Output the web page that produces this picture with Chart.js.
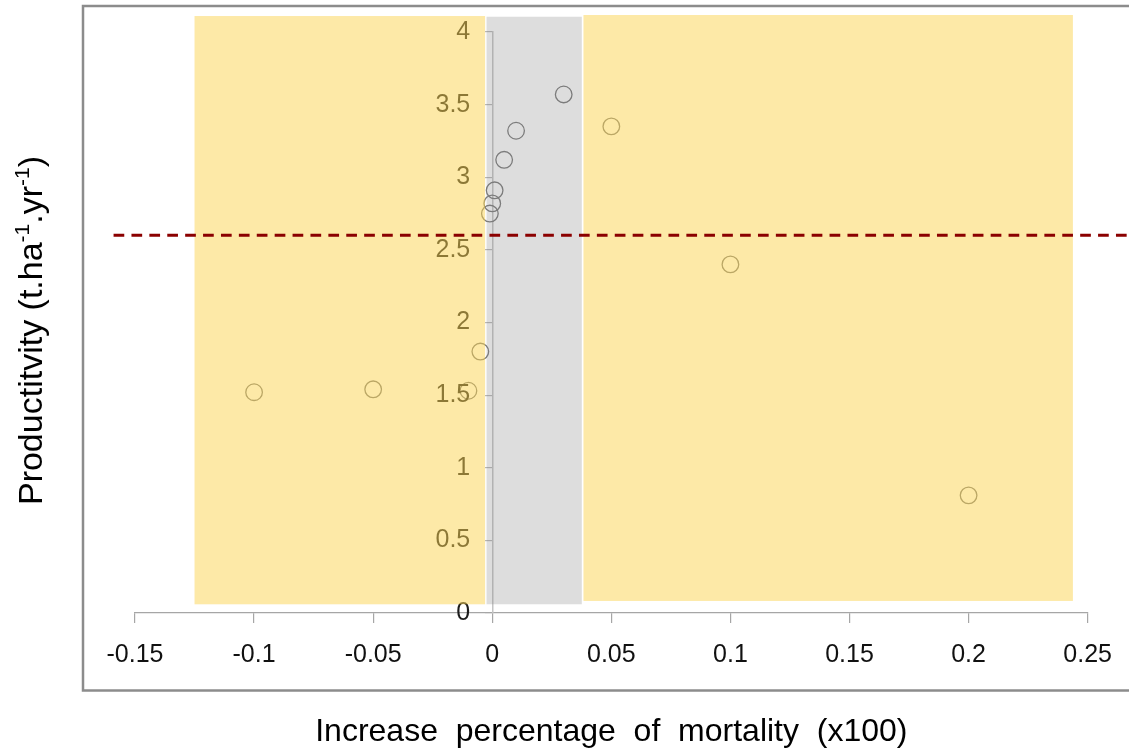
<!DOCTYPE html>
<html>
<head>
<meta charset="utf-8">
<script src="https://cdn.jsdelivr.net/npm/chart.js@4/dist/chart.umd.min.js"></script>
<style>
  html, body { margin: 0; padding: 0; background: #ffffff; }
  #wrap { width: 1129px; height: 756px; position: relative; }
</style>
</head>
<body>
<div id="wrap"><canvas id="chart" width="1129" height="756"></canvas></div>
<script>
// Observed sites: change in mortality vs productivity
const mortalityIncrease = [-0.1, -0.05, -0.01, -0.005, -0.001, 0, 0.001, 0.005, 0.01, 0.03, 0.05, 0.1, 0.2];
const productivity      = [1.52, 1.54, 1.53, 1.80, 2.75, 2.82, 2.91, 3.12, 3.32, 3.57, 3.35, 2.40, 0.81];

// Axis tick labels
const xTickLabels = ['-0.15', '-0.1', '-0.05', '0', '0.05', '0.1', '0.15', '0.2', '0.25'];
const yTickLabels = ['0', '0.5', '1', '1.5', '2', '2.5', '3', '3.5', '4'];

// Shaded zones (data units): [xFrom, xTo, yFrom, yTo]
const zoneLeft   = [-0.125, -0.003, 0.06, 4.11];
const zoneCentre = [-0.0024, 0.0376, 0.06, 4.105];
const zoneRight  = [0.0383, 0.2438, 0.083, 4.117];

// Mean productivity reference line
const meanProductivity = 2.6;
const meanLineSpan = [-0.159, 0.28];

// Axis titles
const xTitle = 'Increase  percentage  of  mortality  (x100)';
const yTitleParts = [
  { text: 'Productitvity (t.ha', sup: false },
  { text: '-1', sup: true },
  { text: '.yr', sup: false },
  { text: '-1', sup: true },
  { text: ')', sup: false }
];

const FONT = '"Liberation Sans", Arial, sans-serif';
const TICK_FONT_SIZE = 25;
const Y_TICK_LEN = 7;
const Y_TICK_PAD = 15;

const decorations = {
  id: 'decorations',
  beforeDraw(chart) {
    const ctx = chart.ctx;
    ctx.save();
    ctx.strokeStyle = '#8c8c8c';
    ctx.lineWidth = 2.5;
    ctx.strokeRect(83, 6, 1100, 684.5);
    ctx.restore();
  },
  afterDraw(chart) {
    const ctx = chart.ctx;
    const xs = chart.scales.x, ys = chart.scales.y;
    ctx.save();

    // y tick labels, left of the axis that crosses at x = 0
    const axisX = xs.getPixelForValue(0);
    ctx.font = TICK_FONT_SIZE + 'px ' + FONT;
    ctx.fillStyle = '#1c1c1c';
    ctx.textAlign = 'right';
    ctx.textBaseline = 'middle';
    ys.ticks.forEach((t, i) => {
      ctx.fillText(yTickLabels[i], axisX - Y_TICK_LEN - Y_TICK_PAD, ys.getPixelForValue(t.value));
    });

    // translucent zones on top of points and labels
    const zone = (z, fill) => {
      const x1 = xs.getPixelForValue(z[0]), x2 = xs.getPixelForValue(z[1]);
      const y1 = ys.getPixelForValue(z[3]), y2 = ys.getPixelForValue(z[2]);
      ctx.fillStyle = fill;
      ctx.fillRect(x1, y1, x2 - x1, y2 - y1);
    };
    zone(zoneLeft, 'rgba(252, 212, 80, 0.5)');
    zone(zoneCentre, 'rgba(128, 128, 128, 0.27)');
    zone(zoneRight, 'rgba(252, 212, 80, 0.5)');

    // dashed mean line
    const yMean = ys.getPixelForValue(meanProductivity);
    ctx.beginPath();
    ctx.setLineDash([10.7, 7.2]);
    ctx.strokeStyle = '#8b0000';
    ctx.lineWidth = 3;
    ctx.moveTo(xs.getPixelForValue(meanLineSpan[0]), yMean);
    ctx.lineTo(xs.getPixelForValue(meanLineSpan[1]), yMean);
    ctx.stroke();
    ctx.setLineDash([]);

    // rotated y title with superscripts
    const big = '34px ' + FONT, small = '21px ' + FONT;
    let total = 0;
    yTitleParts.forEach(p => { ctx.font = p.sup ? small : big; total += ctx.measureText(p.text).width; });
    const cy = (ys.getPixelForValue(0) + ys.getPixelForValue(4)) / 2 + 8;
    ctx.translate(42, cy);
    ctx.rotate(-Math.PI / 2);
    ctx.fillStyle = '#000000';
    ctx.textBaseline = 'alphabetic';
    ctx.textAlign = 'left';
    let pos = -total / 2;
    yTitleParts.forEach(p => {
      ctx.font = p.sup ? small : big;
      ctx.fillText(p.text, pos, p.sup ? -13 : 0);
      pos += ctx.measureText(p.text).width;
    });
    ctx.restore();
  }
};

new Chart(document.getElementById('chart'), {
  type: 'scatter',
  data: {
    datasets: [{
      data: mortalityIncrease.map((x, i) => ({ x: x, y: productivity[i] })),
      pointStyle: 'circle',
      pointRadius: 8.3,
      pointHoverRadius: 8.3,
      pointBorderWidth: 1.3,
      pointBackgroundColor: 'rgba(0,0,0,0)',
      pointBorderColor: '#7a7a7a'
    }]
  },
  options: {
    responsive: false,
    animation: false,
    events: [],
    layout: { padding: { left: 135, right: 40, top: 32, bottom: 0 } },
    plugins: { legend: { display: false }, tooltip: { enabled: false } },
    scales: {
      x: {
        type: 'linear',
        position: 'bottom',
        min: -0.15,
        max: 0.25,
        afterFit(scale) { scale.height = 143; },
        ticks: {
          stepSize: 0.05,
          autoSkip: false,
          maxRotation: 0,
          padding: 17,
          color: '#111111',
          font: { family: FONT, size: TICK_FONT_SIZE },
          callback: (v, i) => xTickLabels[i]
        },
        grid: { display: true, drawOnChartArea: false, drawTicks: true, tickLength: 10, color: '#a6a6a6', lineWidth: 1.2 },
        border: { display: true, color: '#a6a6a6', width: 1.2 },
        title: {
          display: true,
          text: xTitle,
          color: '#000000',
          font: { family: FONT, size: 32 },
          padding: { top: 0, bottom: 5 }
        }
      },
      y: {
        type: 'linear',
        position: { x: 0 },
        min: 0,
        max: 4,
        ticks: {
          stepSize: 0.5,
          color: 'rgba(0,0,0,0)',
          font: { family: FONT, size: TICK_FONT_SIZE },
          callback: (v, i) => yTickLabels[i]
        },
        grid: { display: true, drawOnChartArea: false, drawTicks: true, tickLength: Y_TICK_LEN, color: '#b8b8b8', lineWidth: 1.2 },
        border: { display: true, color: '#c4c4c4', width: 1.5 }
      }
    }
  },
  plugins: [decorations]
});
</script>
</body>
</html>
